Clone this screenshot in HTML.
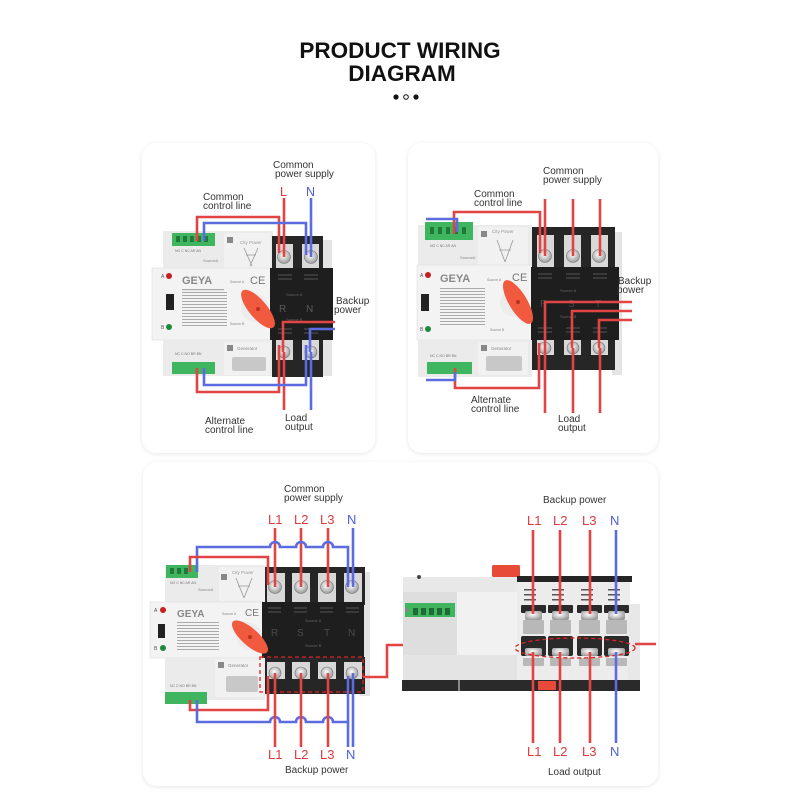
<!DOCTYPE html>
<html><head><meta charset="utf-8"><style>
html,body{margin:0;padding:0;background:#fff;}
svg{display:block;}
text{font-family:"Liberation Sans",Arial,sans-serif;}
</style></head><body>
<svg width="800" height="800" viewBox="0 0 800 800" xmlns="http://www.w3.org/2000/svg">
<defs>
<filter id="sh" x="-5%" y="-5%" width="110%" height="110%"><feGaussianBlur stdDeviation="2.5"/></filter>
<radialGradient id="scr" cx="0.45" cy="0.4" r="0.6"><stop offset="0" stop-color="#ffffff"/><stop offset="1" stop-color="#9a9a9a"/></radialGradient>
</defs>
<rect width="800" height="800" fill="#ffffff"/>

<!-- title -->
<text x="400" y="58" text-anchor="middle" font-size="22.5" font-weight="bold" fill="#111">PRODUCT WIRING</text>
<text x="402" y="81" text-anchor="middle" font-size="22.5" font-weight="bold" fill="#111">DIAGRAM</text>
<circle cx="396" cy="97" r="2.6" fill="#111"/>
<circle cx="406" cy="97" r="2.3" fill="none" stroke="#111" stroke-width="1"/>
<circle cx="416" cy="97" r="2.6" fill="#111"/>

<!-- cards -->
<g fill="#e6e6e6" filter="url(#sh)">
<rect x="142" y="144" width="233" height="310" rx="14"/>
<rect x="408" y="144" width="250" height="310" rx="14"/>
<rect x="143" y="463" width="515" height="324" rx="14"/>
</g>
<rect x="142" y="143" width="233" height="310" rx="14" fill="#fff"/>
<rect x="408" y="143" width="250" height="310" rx="14" fill="#fff"/>
<rect x="143" y="462" width="515" height="324" rx="14" fill="#fff"/>

<!-- ================= CARD 1 ================= -->
<g>
<rect x="318" y="240" width="14" height="136" fill="#e4e4e4"/>
<rect x="163" y="231" width="110" height="40" fill="#ebebeb"/>
<rect x="224" y="233" width="46" height="36" fill="#f1f1f1"/>
<rect x="172" y="233" width="43" height="13" fill="#3fb560"/>
<g fill="#1f7a3a"><rect x="176" y="236" width="4" height="6"/><rect x="183" y="236" width="4" height="6"/><rect x="190" y="236" width="4" height="6"/><rect x="197" y="236" width="4" height="6"/><rect x="204" y="236" width="4" height="6"/></g>
<text x="175" y="252" font-size="3.5" fill="#777">NO C NC AR AN</text>
<text x="203" y="262" font-size="4" fill="#888">SourceA</text>
<rect x="227" y="237" width="6" height="6" fill="#888"/>
<text x="240" y="244" font-size="4.5" fill="#999">City Power</text>
<path d="M244 248 L252 266 M258 248 L250 266 M246 255 H256" stroke="#999" stroke-width="0.8" fill="none"/>
<rect x="152" y="268" width="121" height="72" fill="#f3f3f3" stroke="#dedede" stroke-width="0.6"/>
<circle cx="169" cy="276" r="3" fill="#c81e1e"/>
<text x="161" y="278" font-size="5" fill="#555">A</text>
<circle cx="169" cy="327" r="3" fill="#1c8a3a"/>
<text x="161" y="329" font-size="5" fill="#555">B</text>
<rect x="166" y="294" width="8" height="16" fill="#222"/>
<text x="182" y="284" font-size="11" font-weight="bold" fill="#888">GEYA</text>
<text x="250" y="284" font-size="11" fill="#777">CE</text>
<text x="230" y="283" font-size="3.5" fill="#888">Source A</text>
<g fill="#aaa"><rect x="182" y="289" width="42" height="1.2"/><rect x="182" y="292" width="45" height="1"/><rect x="182" y="295" width="45" height="1"/><rect x="182" y="298" width="45" height="1"/><rect x="182" y="301" width="45" height="1"/><rect x="182" y="304" width="45" height="1"/><rect x="182" y="307" width="45" height="1"/><rect x="182" y="310" width="45" height="1"/><rect x="182" y="313" width="45" height="1"/><rect x="182" y="316" width="45" height="1"/><rect x="182" y="319" width="45" height="1"/><rect x="182" y="322" width="45" height="1"/><rect x="182" y="325" width="45" height="1"/></g>
<text x="230" y="325" font-size="3.5" fill="#888">Source B</text>
<rect x="163" y="340" width="110" height="36" fill="#ebebeb"/>
<rect x="224" y="342" width="46" height="33" fill="#f1f1f1"/>
<rect x="227" y="345" width="6" height="6" fill="#888"/>
<text x="237" y="350" font-size="4.5" fill="#888">Generator</text>
<rect x="232" y="357" width="34" height="14" rx="2" fill="#c8c8c8"/>
<text x="175" y="355" font-size="3.5" fill="#777">NC C NO BR BN</text>
<rect x="172" y="362" width="43" height="12" fill="#3fb560"/>
<rect x="272" y="236" width="51" height="36" fill="#262626"/>
<rect x="276" y="244" width="17" height="26" fill="#d8d8d8"/>
<rect x="302" y="244" width="17" height="26" fill="#d8d8d8"/>
<circle cx="284" cy="257" r="6.5" fill="url(#scr)" stroke="#777" stroke-width="0.6"/>
<circle cx="311" cy="257" r="6.5" fill="url(#scr)" stroke="#777" stroke-width="0.6"/>
<rect x="270" y="268" width="63" height="72" fill="#1e1e1e"/>
<g fill="#3a3a3a"><rect x="278" y="274" width="14" height="2"/><rect x="278" y="278" width="14" height="2"/><rect x="304" y="274" width="14" height="2"/><rect x="304" y="278" width="14" height="2"/><rect x="278" y="328" width="14" height="2"/><rect x="278" y="332" width="14" height="2"/><rect x="304" y="328" width="14" height="2"/><rect x="304" y="332" width="14" height="2"/></g>
<text x="286" y="296" font-size="4" fill="#666">Source A</text>
<text x="279" y="312" font-size="10" fill="#5a5a5a">R</text>
<text x="306" y="312" font-size="10" fill="#5a5a5a">N</text>
<text x="286" y="321" font-size="4" fill="#666">Source B</text>
<rect x="272" y="340" width="51" height="37" fill="#262626"/>
<rect x="276" y="340" width="17" height="20" fill="#d8d8d8"/>
<rect x="302" y="340" width="17" height="20" fill="#d8d8d8"/>
<circle cx="284" cy="352" r="6" fill="url(#scr)" stroke="#777" stroke-width="0.6"/>
<circle cx="311" cy="352" r="6" fill="url(#scr)" stroke="#777" stroke-width="0.6"/>
<circle cx="255" cy="308" r="14" fill="#ececec"/>
<ellipse cx="258" cy="309" rx="24" ry="9" transform="rotate(50 258 309)" fill="#f15a3e"/>
<circle cx="258" cy="309" r="2" fill="#b83020"/>
<g fill="none" stroke-width="2.6" stroke-linejoin="miter">
<path d="M284 198 V257" stroke="#e24444"/>
<path d="M311 198 V257" stroke="#5a6ce0"/>
<path d="M197 241 V217 H279 V253" stroke="#e24444"/>
<path d="M204 241 V223 H306 V255" stroke="#5a6ce0"/>
<path d="M335 322 H283 V352" stroke="#e24444"/>
<path d="M284 352 V410" stroke="#e24444"/>
<path d="M335 329 H310 V352" stroke="#5a6ce0"/>
<path d="M311 352 V410" stroke="#5a6ce0"/>
<path d="M197 368 V392 H279 V345" stroke="#e24444"/>
<path d="M204 368 V385 H306 V345" stroke="#5a6ce0"/>
</g>
<g font-size="10" fill="#333">
<text x="273" y="168">Common</text>
<text x="275" y="177">power supply</text>
<text x="203" y="200">Common</text>
<text x="203" y="209">control line</text>
<text x="336" y="304">Backup</text>
<text x="334" y="313">power</text>
<text x="205" y="424">Alternate</text>
<text x="205" y="433">control line</text>
<text x="285" y="421">Load</text>
<text x="285" y="430">output</text>
</g>
<text x="280" y="196" font-size="12.5" fill="#e03a3a">L</text>
<text x="306" y="196" font-size="12.5" fill="#4a5fd8">N</text>
</g>

<!-- ================= CARD 2 ================= -->
<g>
<rect x="612" y="232" width="10" height="143" fill="#e4e4e4"/>
<rect x="418" y="225" width="114" height="42" fill="#ebebeb"/>
<rect x="478" y="227" width="50" height="38" fill="#f1f1f1"/>
<rect x="425" y="222" width="48" height="18" fill="#3fb560"/>
<g fill="#1f7a3a"><rect x="430" y="227" width="4" height="7"/><rect x="438" y="227" width="4" height="7"/><rect x="446" y="227" width="4" height="7"/><rect x="454" y="227" width="4" height="7"/><rect x="462" y="227" width="4" height="7"/></g>
<text x="430" y="247" font-size="3.5" fill="#777">NO C NC AR AN</text>
<text x="460" y="259" font-size="4" fill="#888">SourceA</text>
<rect x="481" y="231" width="6" height="6" fill="#888"/>
<text x="492" y="233" font-size="4.5" fill="#999">City Power</text>
<path d="M497 240 L505 262 M513 240 L505 262 M499 250 H511" stroke="#999" stroke-width="0.8" fill="none"/>
<rect x="417" y="265" width="115" height="75" fill="#f3f3f3" stroke="#dedede" stroke-width="0.6"/>
<circle cx="428" cy="275" r="3" fill="#c81e1e"/>
<text x="420" y="277" font-size="5" fill="#555">A</text>
<circle cx="428" cy="329" r="3" fill="#1c8a3a"/>
<text x="420" y="331" font-size="5" fill="#555">B</text>
<rect x="421" y="294" width="8" height="17" fill="#222"/>
<text x="440" y="282" font-size="11" font-weight="bold" fill="#888">GEYA</text>
<text x="512" y="281" font-size="11" fill="#777">CE</text>
<text x="487" y="281" font-size="3.5" fill="#888">Source A</text>
<g fill="#aaa"><rect x="440" y="288" width="45" height="1"/><rect x="440" y="291" width="45" height="1"/><rect x="440" y="294" width="45" height="1"/><rect x="440" y="297" width="45" height="1"/><rect x="440" y="300" width="45" height="1"/><rect x="440" y="303" width="45" height="1"/><rect x="440" y="306" width="45" height="1"/><rect x="440" y="309" width="45" height="1"/><rect x="440" y="312" width="45" height="1"/><rect x="440" y="315" width="45" height="1"/><rect x="440" y="318" width="45" height="1"/><rect x="440" y="321" width="45" height="1"/><rect x="440" y="324" width="45" height="1"/></g>
<text x="490" y="331" font-size="3.5" fill="#888">Source B</text>
<rect x="418" y="340" width="114" height="37" fill="#ebebeb"/>
<rect x="478" y="342" width="50" height="33" fill="#f1f1f1"/>
<rect x="481" y="345" width="6" height="6" fill="#888"/>
<text x="491" y="350" font-size="4.5" fill="#888">Generator</text>
<rect x="486" y="356" width="36" height="15" rx="2" fill="#c8c8c8"/>
<text x="430" y="357" font-size="3.5" fill="#777">NC C NO BR BN</text>
<rect x="427" y="362" width="45" height="12" fill="#3fb560"/>
<rect x="532" y="227" width="83" height="42" fill="#262626"/>
<rect x="537" y="235" width="17" height="32" fill="#d8d8d8"/>
<rect x="564" y="235" width="17" height="32" fill="#d8d8d8"/>
<rect x="591" y="235" width="17" height="32" fill="#d8d8d8"/>
<circle cx="545" cy="256" r="6.5" fill="url(#scr)" stroke="#777" stroke-width="0.6"/>
<circle cx="573" cy="256" r="6.5" fill="url(#scr)" stroke="#777" stroke-width="0.6"/>
<circle cx="599" cy="256" r="6.5" fill="url(#scr)" stroke="#777" stroke-width="0.6"/>
<rect x="531" y="267" width="88" height="73" fill="#1e1e1e"/>
<g fill="#3a3a3a"><rect x="538" y="273" width="14" height="2"/><rect x="538" y="277" width="14" height="2"/><rect x="566" y="273" width="14" height="2"/><rect x="566" y="277" width="14" height="2"/><rect x="593" y="273" width="14" height="2"/><rect x="593" y="277" width="14" height="2"/><rect x="538" y="327" width="14" height="2"/><rect x="538" y="331" width="14" height="2"/><rect x="566" y="327" width="14" height="2"/><rect x="566" y="331" width="14" height="2"/><rect x="593" y="327" width="14" height="2"/><rect x="593" y="331" width="14" height="2"/></g>
<text x="560" y="292" font-size="4" fill="#666">Source A</text>
<text x="540" y="307" font-size="10" fill="#4a4a4a">R</text>
<text x="568" y="307" font-size="10" fill="#4a4a4a">S</text>
<text x="595" y="307" font-size="10" fill="#4a4a4a">T</text>
<text x="560" y="318" font-size="4" fill="#666">Source B</text>
<rect x="532" y="340" width="83" height="30" fill="#262626"/>
<rect x="537" y="340" width="17" height="15" fill="#d8d8d8"/>
<rect x="564" y="340" width="17" height="15" fill="#d8d8d8"/>
<rect x="591" y="340" width="17" height="15" fill="#d8d8d8"/>
<circle cx="545" cy="348" r="6" fill="url(#scr)" stroke="#777" stroke-width="0.6"/>
<circle cx="573" cy="348" r="6" fill="url(#scr)" stroke="#777" stroke-width="0.6"/>
<circle cx="599" cy="348" r="6" fill="url(#scr)" stroke="#777" stroke-width="0.6"/>
<circle cx="514" cy="303" r="14" fill="#ececec"/>
<ellipse cx="518" cy="302" rx="25" ry="9" transform="rotate(59 518 302)" fill="#f15a3e"/>
<circle cx="518" cy="302" r="2" fill="#b83020"/>
<g fill="none" stroke-width="2.6">
<path d="M545 199 V256" stroke="#e24444"/>
<path d="M573 199 V256" stroke="#e24444"/>
<path d="M600 199 V256" stroke="#e24444"/>
<path d="M454 234 V212 H540 V253" stroke="#e24444"/>
<path d="M426 219 H457 V232" stroke="#5a6ce0"/>
<path d="M632 302 H545 V348" stroke="#e24444"/>
<path d="M632 311 H572 V348" stroke="#e24444"/>
<path d="M632 320 H599 V348" stroke="#e24444"/>
<path d="M545 348 V413" stroke="#e24444"/>
<path d="M573 348 V413" stroke="#e24444"/>
<path d="M600 348 V413" stroke="#e24444"/>
<path d="M455 368 V388 H539 V343" stroke="#e24444"/>
<path d="M426 380 H455 V372" stroke="#5a6ce0"/>
</g>
<g font-size="10" fill="#333">
<text x="543" y="174">Common</text>
<text x="543" y="183">power supply</text>
<text x="474" y="197">Common</text>
<text x="474" y="206">control line</text>
<text x="618" y="284">Backup</text>
<text x="617" y="293">power</text>
<text x="471" y="403">Alternate</text>
<text x="471" y="412">control line</text>
<text x="558" y="422">Load</text>
<text x="558" y="431">output</text>
</g>
</g>

<!-- ================= CARD 3 LEFT ================= -->
<g>
<rect x="360" y="572" width="10" height="124" fill="#e4e4e4"/>
<rect x="165" y="565" width="102" height="38" fill="#ebebeb"/>
<rect x="219" y="567" width="46" height="34" fill="#f1f1f1"/>
<rect x="166" y="565" width="32" height="13" fill="#3fb560"/>
<g fill="#1f7a3a"><rect x="170" y="568" width="4" height="6"/><rect x="177" y="568" width="4" height="6"/><rect x="184" y="568" width="4" height="6"/></g>
<text x="170" y="584" font-size="3.5" fill="#777">NO C NC AR AN</text>
<text x="198" y="591" font-size="4" fill="#888">SourceA</text>
<rect x="221" y="574" width="6" height="6" fill="#888"/>
<text x="232" y="574" font-size="4.5" fill="#999">City Power</text>
<path d="M236 578 L244 598 M252 578 L244 598 M238 586 H250" stroke="#999" stroke-width="0.8" fill="none"/>
<rect x="150" y="602" width="115" height="56" fill="#f3f3f3" stroke="#dedede" stroke-width="0.6"/>
<circle cx="163" cy="610" r="3" fill="#c81e1e"/>
<text x="154" y="612" font-size="5" fill="#555">A</text>
<circle cx="163" cy="648" r="3" fill="#1c8a3a"/>
<text x="154" y="650" font-size="5" fill="#555">B</text>
<rect x="158" y="624" width="7" height="14" fill="#222"/>
<text x="177" y="617" font-size="10" font-weight="bold" fill="#888">GEYA</text>
<text x="245" y="616" font-size="10" fill="#777">CE</text>
<text x="222" y="615" font-size="3.5" fill="#888">Source A</text>
<g fill="#aaa"><rect x="177" y="622" width="42" height="1"/><rect x="177" y="625" width="42" height="1"/><rect x="177" y="628" width="42" height="1"/><rect x="177" y="631" width="42" height="1"/><rect x="177" y="634" width="42" height="1"/><rect x="177" y="637" width="42" height="1"/><rect x="177" y="640" width="42" height="1"/><rect x="177" y="643" width="42" height="1"/><rect x="177" y="646" width="42" height="1"/><rect x="177" y="649" width="42" height="1"/></g>
<rect x="165" y="657" width="100" height="43" fill="#ebebeb"/>
<rect x="215" y="659" width="48" height="38" fill="#f1f1f1"/>
<rect x="218" y="662" width="6" height="6" fill="#888"/>
<text x="228" y="667" font-size="4.5" fill="#888">Generator</text>
<rect x="226" y="676" width="32" height="16" rx="2" fill="#c8c8c8"/>
<text x="170" y="687" font-size="3.5" fill="#777">NC C NO BR BN</text>
<rect x="165" y="692" width="42" height="12" fill="#3fb560"/>
<rect x="265" y="567" width="100" height="38" fill="#262626"/>
<rect x="267" y="573" width="18" height="30" fill="#d8d8d8"/>
<rect x="292" y="573" width="18" height="30" fill="#d8d8d8"/>
<rect x="318" y="573" width="18" height="30" fill="#d8d8d8"/>
<rect x="344" y="573" width="18" height="30" fill="#d8d8d8"/>
<circle cx="275" cy="587" r="6.5" fill="url(#scr)" stroke="#777" stroke-width="0.6"/>
<circle cx="301" cy="587" r="6.5" fill="url(#scr)" stroke="#777" stroke-width="0.6"/>
<circle cx="327" cy="587" r="6.5" fill="url(#scr)" stroke="#777" stroke-width="0.6"/>
<circle cx="352" cy="587" r="6.5" fill="url(#scr)" stroke="#777" stroke-width="0.6"/>
<rect x="262" y="602" width="102" height="56" fill="#1e1e1e"/>
<g fill="#3a3a3a"><rect x="268" y="607" width="13" height="2"/><rect x="268" y="611" width="13" height="2"/><rect x="294" y="607" width="13" height="2"/><rect x="294" y="611" width="13" height="2"/><rect x="320" y="607" width="13" height="2"/><rect x="320" y="611" width="13" height="2"/><rect x="346" y="607" width="13" height="2"/><rect x="346" y="611" width="13" height="2"/></g>
<text x="305" y="622" font-size="4" fill="#666">Source A</text>
<text x="271" y="636" font-size="10" fill="#4a4a4a">R</text>
<text x="297" y="636" font-size="10" fill="#4a4a4a">S</text>
<text x="324" y="636" font-size="10" fill="#4a4a4a">T</text>
<text x="348" y="636" font-size="10" fill="#4a4a4a">N</text>
<text x="305" y="647" font-size="4" fill="#666">Source B</text>
<rect x="265" y="657" width="100" height="37" fill="#262626"/>
<rect x="267" y="662" width="18" height="17" fill="#d8d8d8"/>
<rect x="292" y="662" width="18" height="17" fill="#d8d8d8"/>
<rect x="318" y="662" width="18" height="17" fill="#d8d8d8"/>
<rect x="344" y="662" width="18" height="17" fill="#d8d8d8"/>
<circle cx="275" cy="673" r="6" fill="url(#scr)" stroke="#777" stroke-width="0.6"/>
<circle cx="301" cy="673" r="6" fill="url(#scr)" stroke="#777" stroke-width="0.6"/>
<circle cx="327" cy="673" r="6" fill="url(#scr)" stroke="#777" stroke-width="0.6"/>
<circle cx="352" cy="673" r="6" fill="url(#scr)" stroke="#777" stroke-width="0.6"/>
<circle cx="249" cy="636" r="13" fill="#ececec"/>
<ellipse cx="250" cy="637" rx="23" ry="8.5" transform="rotate(42 250 637)" fill="#f15a3e"/>
<circle cx="250" cy="637" r="2" fill="#b83020"/>
<rect x="260" y="657" width="103" height="35" fill="none" stroke="#d22" stroke-width="1.3" stroke-dasharray="4 3"/>
<g fill="none" stroke-width="2.6">
<path d="M275 528 V587" stroke="#e24444"/>
<path d="M301 528 V587" stroke="#e24444"/>
<path d="M328 528 V587" stroke="#e24444"/>
<path d="M353 528 V587" stroke="#5a6ce0"/>
<path d="M197 572 V547 H270 A5 5 0 0 1 280 547 H296 A5 5 0 0 1 306 547 H323 A5 5 0 0 1 333 547 H348 V587" stroke="#5a6ce0"/>
<path d="M190 572 V557 H268 V585" stroke="#e24444"/>
<path d="M190 700 V710 H268 V676" stroke="#e24444"/>
<path d="M197 700 V722 H270 A5 5 0 0 1 280 722 H296 A5 5 0 0 1 306 722 H323 A5 5 0 0 1 333 722 H348 V676" stroke="#5a6ce0"/>
<path d="M275 673 V747" stroke="#e24444"/>
<path d="M301 673 V747" stroke="#e24444"/>
<path d="M328 673 V747" stroke="#e24444"/>
<path d="M353 673 V747" stroke="#5a6ce0"/>
<path d="M348 722 V747" stroke="#5a6ce0"/>
<path d="M363 677 H387 V645 H410" stroke="#e24444"/>
</g>
<g font-size="10" fill="#333">
<text x="284" y="492">Common</text>
<text x="284" y="501">power supply</text>
<text x="285" y="773">Backup power</text>
</g>
<g font-size="13">
<text x="268" y="524" fill="#e03a3a">L1</text>
<text x="294" y="524" fill="#e03a3a">L2</text>
<text x="320" y="524" fill="#e03a3a">L3</text>
<text x="347" y="524" fill="#4a5fd8">N</text>
<text x="268" y="759" fill="#e03a3a">L1</text>
<text x="294" y="759" fill="#e03a3a">L2</text>
<text x="320" y="759" fill="#e03a3a">L3</text>
<text x="346" y="759" fill="#4a5fd8">N</text>
</g>
</g>

<!-- ================= CARD 3 RIGHT ================= -->
<g>
<rect x="403" y="577" width="115" height="104" fill="#e8e8e8"/>
<rect x="403" y="592" width="54" height="63" fill="#dedede"/>
<rect x="457" y="592" width="61" height="63" fill="#f1f1f1"/>
<rect x="403" y="655" width="115" height="25" fill="#e4e4e4"/>
<circle cx="419" cy="577" r="2" fill="#444"/>
<rect x="405" y="603" width="50" height="14" fill="#3fb560"/>
<g fill="#1f6b35"><rect x="413" y="608" width="5" height="7"/><rect x="421" y="608" width="5" height="7"/><rect x="429" y="608" width="5" height="7"/><rect x="437" y="608" width="5" height="7"/><rect x="445" y="608" width="5" height="7"/></g>
<circle cx="407" cy="610" r="2" fill="#888"/>
<rect x="492" y="565" width="28" height="12" rx="1.5" fill="#e84a3a"/>
<rect x="517" y="577" width="113" height="104" fill="#ececec"/>
<rect x="517" y="576" width="115" height="6" fill="#252525"/>
<rect x="628" y="604" width="12" height="78" fill="#e8e8e8"/>
<g fill="#555"><rect x="524" y="589" width="12" height="1.5"/><rect x="524" y="594" width="12" height="1.5"/><rect x="524" y="599" width="12" height="1.5"/><rect x="552" y="589" width="12" height="1.5"/><rect x="552" y="594" width="12" height="1.5"/><rect x="552" y="599" width="12" height="1.5"/><rect x="581" y="589" width="12" height="1.5"/><rect x="581" y="594" width="12" height="1.5"/><rect x="581" y="599" width="12" height="1.5"/><rect x="608" y="589" width="12" height="1.5"/><rect x="608" y="594" width="12" height="1.5"/><rect x="608" y="599" width="12" height="1.5"/></g>
<g fill="#2a2a2a">
<rect x="521" y="605" width="25" height="8" rx="1"/>
<rect x="548" y="605" width="25" height="8" rx="1"/>
<rect x="577" y="605" width="25" height="8" rx="1"/>
<rect x="604" y="605" width="25" height="8" rx="1"/>
<rect x="521" y="636" width="25" height="20" rx="2"/>
<rect x="548" y="636" width="25" height="20" rx="2"/>
<rect x="577" y="636" width="25" height="20" rx="2"/>
<rect x="604" y="636" width="25" height="20" rx="2"/>
</g>
<g fill="#b8b8b8">
<rect x="523" y="620" width="21" height="14" rx="1"/>
<rect x="550" y="620" width="21" height="14" rx="1"/>
<rect x="579" y="620" width="21" height="14" rx="1"/>
<rect x="606" y="620" width="21" height="14" rx="1"/>
<rect x="523" y="658" width="21" height="8" rx="1"/>
<rect x="550" y="658" width="21" height="8" rx="1"/>
<rect x="579" y="658" width="21" height="8" rx="1"/>
<rect x="606" y="658" width="21" height="8" rx="1"/>
</g>
<g fill="url(#scr)">
<rect x="525" y="611" width="17" height="9" rx="2"/>
<rect x="552" y="611" width="17" height="9" rx="2"/>
<rect x="581" y="611" width="17" height="9" rx="2"/>
<rect x="608" y="611" width="17" height="9" rx="2"/>
<rect x="525" y="648" width="17" height="8" rx="2"/>
<rect x="552" y="648" width="17" height="8" rx="2"/>
<rect x="581" y="648" width="17" height="8" rx="2"/>
<rect x="608" y="648" width="17" height="8" rx="2"/>
</g>
<rect x="402" y="680" width="238" height="11" fill="#2a2a2a"/>
<rect x="458" y="680" width="2" height="11" fill="#888"/>
<rect x="538" y="681" width="18" height="9" fill="#e84a3a"/>
<ellipse cx="575" cy="648" rx="60" ry="10" fill="none" stroke="#d22" stroke-width="1.3" stroke-dasharray="4 3"/>
<g fill="none" stroke-width="2.6">
<path d="M533 530 V614" stroke="#e24444"/>
<path d="M560 530 V614" stroke="#e24444"/>
<path d="M590 530 V614" stroke="#e24444"/>
<path d="M616 530 V614" stroke="#5a6ce0"/>
<path d="M533 652 V743" stroke="#e24444"/>
<path d="M560 652 V743" stroke="#e24444"/>
<path d="M590 652 V743" stroke="#e24444"/>
<path d="M616 652 V743" stroke="#5a6ce0"/>
<path d="M635 644 H656" stroke="#e24444"/>
</g>
<g font-size="10" fill="#333">
<text x="543" y="503">Backup power</text>
<text x="548" y="775">Load output</text>
</g>
<g font-size="13">
<text x="527" y="525" fill="#e03a3a">L1</text>
<text x="553" y="525" fill="#e03a3a">L2</text>
<text x="582" y="525" fill="#e03a3a">L3</text>
<text x="610" y="525" fill="#4a5fd8">N</text>
<text x="527" y="756" fill="#e03a3a">L1</text>
<text x="553" y="756" fill="#e03a3a">L2</text>
<text x="582" y="756" fill="#e03a3a">L3</text>
<text x="610" y="756" fill="#4a5fd8">N</text>
</g>
</g>
</svg>
</body></html>
